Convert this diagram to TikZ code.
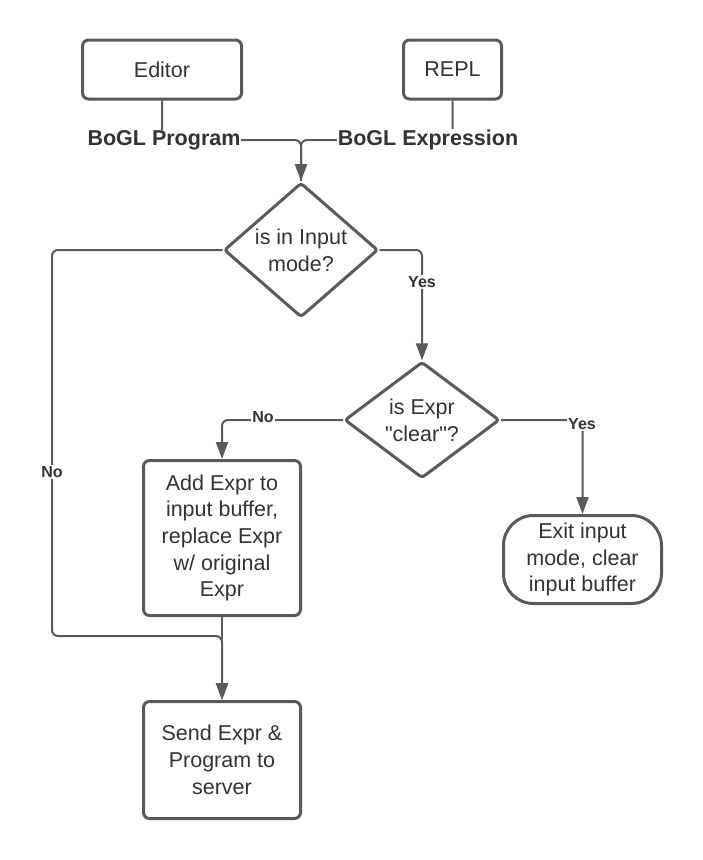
\documentclass[tikz,border=0pt]{standalone}
\usepackage{fontspec}
\setmainfont{Liberation Sans}[Ligatures=TeXOff]
\usetikzlibrary{shapes.geometric,arrows.meta}
\definecolor{ln}{HTML}{5A5A5A}
\definecolor{tx}{HTML}{333333}
\begin{document}
\begin{tikzpicture}[x=1pt,y=-1pt,
  box/.style={draw=ln,line width=3pt,rounded corners=6pt,text=tx,align=center,
    font=\fontsize{21.5}{26.7}\selectfont,inner sep=0pt},
  dia/.style={shape=diamond,draw=ln,line width=3pt,rounded corners=3pt,text=tx,align=center,
    font=\fontsize{21.5}{26.7}\selectfont,inner sep=0pt},
  conn/.style={draw=ln,line width=2pt,rounded corners=6pt},
  arr/.style={conn,-{Triangle[width=12pt,length=17pt]}},
  lbl/.style={fill=white,text=tx,font=\bfseries\fontsize{21.5}{25}\selectfont,inner sep=0.5pt},
  yn/.style={fill=white,text=tx,font=\bfseries\fontsize{16}{19}\selectfont,inner sep=1pt}]
\useasboundingbox (0,0) rectangle (702,860);

\node[box,minimum width=159pt,minimum height=59pt] (ed) at (162,69.5) {Editor};
\node[box,minimum width=98pt,minimum height=59pt] (repl) at (452.5,69.5) {REPL};
\node[dia,minimum width=154pt,minimum height=133pt] (d1) at (301,250) {is in Input\\mode?};
\node[dia,minimum width=155pt,minimum height=113pt] (d2) at (422,420) {is Expr\\"clear"?};
\node[box,minimum width=157pt,minimum height=155pt] (add) at (222,538) {Add Expr to\\input buffer,\\replace Expr\\w/ original\\Expr};
\node[box,minimum width=157pt,minimum height=117pt] (send) at (222,760) {Send Expr \&\\Program to\\server};
\node[box,rounded corners=30pt,minimum width=158pt,minimum height=88pt] (exit) at (582.5,559.5) {Exit input\\mode, clear\\input buffer};

\coordinate (j) at (301,140);
\coordinate (nl) at (52,636);
\coordinate (nj) at (222,636);

\draw[conn] (ed.south) |- (j) -- (d1.north);
\draw[arr] (repl.south) |- (j) -- (d1.north);
\draw[arr] (d1.west) -| (nl) -- (nj) -- (send.north);
\draw[arr] (add.south) -- (send.north);
\draw[arr] (d1.east) -| (d2.north);
\draw[arr] (d2.west) -| (add.north);
\draw[arr] (d2.east) -| (exit.north);

\node[lbl] (lp) at (164,140) {BoGL Program};
\node[lbl] (le) at (428,140) {BoGL Expression};
\node[yn] (no1) at (52,472) {No};
\node[yn] (yes1) at (422,282) {Yes};
\node[yn] (no2) at (263,417) {No};
\node[yn] (yes2) at (582,424) {Yes};
\end{tikzpicture}
\end{document}
